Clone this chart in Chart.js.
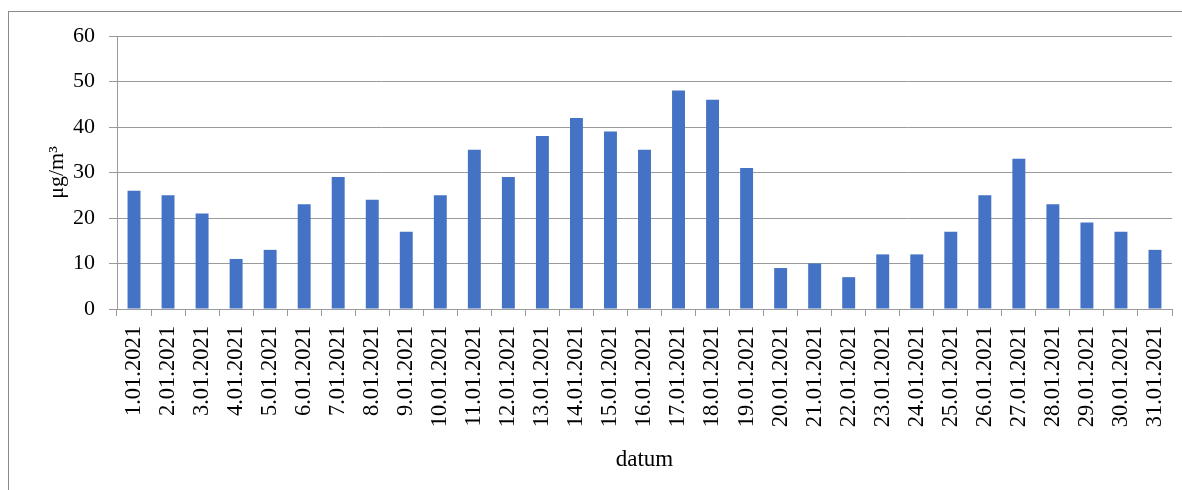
<!DOCTYPE html>
<html>
<head>
<meta charset="utf-8">
<script src="https://cdn.jsdelivr.net/npm/chart.js@4"></script>
<style>
  html, body { margin: 0; padding: 0; background: #fff; }
  #wrap { width: 1182px; height: 490px; }
</style>
</head>
<body>
<div id="wrap"><canvas id="grafico"></canvas></div>
<script>
const datumi = [
    "1.01.2021", "2.01.2021", "3.01.2021", "4.01.2021", "5.01.2021", "6.01.2021",
    "7.01.2021", "8.01.2021", "9.01.2021", "10.01.2021", "11.01.2021", "12.01.2021",
    "13.01.2021", "14.01.2021", "15.01.2021", "16.01.2021", "17.01.2021", "18.01.2021",
    "19.01.2021", "20.01.2021", "21.01.2021", "22.01.2021", "23.01.2021", "24.01.2021",
    "25.01.2021", "26.01.2021", "27.01.2021", "28.01.2021", "29.01.2021", "30.01.2021",
    "31.01.2021"
];
const koncentracija = [
    26, 25, 21, 11, 13, 23, 29, 24, 17, 25, 35, 29, 38, 42, 39, 35,
    48, 46, 31, 9, 10, 7, 12, 12, 17, 25, 33, 23, 19, 17, 13
];
const yMin = 0;
const yMax = 60;
const yKorak = 10;

const FONT = "'Liberation Serif', 'Times New Roman', serif";
const SIVA = "#9a9a9a";

// white background plus the grey frame round the chart
const okvir = {
    id: "okvir",
    beforeDraw(c) {
        const ctx = c.ctx;
        ctx.save();
        ctx.fillStyle = "#fff";
        ctx.fillRect(0, 0, c.width, c.height);
        ctx.strokeStyle = "#8a8a8a";
        ctx.lineWidth = 1;
        ctx.strokeRect(8.5, 11.5, c.width, c.height);
        ctx.restore();
    }
};

const ctx = document.getElementById("grafico").getContext("2d");
new Chart(ctx, {
    type: "bar",
    data: {
        labels: datumi,
        datasets: [{
            data: koncentracija,
            backgroundColor: "#4472c4",
            barPercentage: 0.76,
            categoryPercentage: 0.5
        }]
    },
    options: {
        responsive: true,
        maintainAspectRatio: false,
        animation: false,
        layout: { padding: { left: 0, top: 36, right: 10, bottom: 0 } },
        plugins: {
            legend: { display: false },
            tooltip: { enabled: false }
        },
        scales: {
            x: {
                grid: {
                    offset: true,
                    drawOnChartArea: false,
                    drawTicks: true,
                    tickLength: 7,
                    color: SIVA
                },
                border: { display: true, color: SIVA },
                ticks: {
                    color: "#000",
                    font: { family: FONT, size: 22.5 },
                    minRotation: 90,
                    maxRotation: 90,
                    autoSkip: false,
                    padding: 10
                },
                title: {
                    display: true,
                    text: "datum",
                    color: "#000",
                    font: { family: FONT, size: 23 },
                    padding: { top: 0, bottom: 16 }
                },
                afterFit(scale) {
                    scale.height = 181;
                    scale.paddingLeft = 0;
                    scale.paddingRight = 0;
                }
            },
            y: {
                min: yMin,
                max: yMax,
                grid: {
                    color: SIVA,
                    drawTicks: true,
                    tickLength: 8
                },
                border: { display: true, color: SIVA },
                ticks: {
                    stepSize: yKorak,
                    color: "#000",
                    font: { family: FONT, size: 22 },
                    padding: 14
                },
                title: {
                    display: true,
                    text: "μg/m³",
                    color: "#000",
                    font: { family: FONT, size: 22 },
                    padding: { top: 44, bottom: 0 }
                },
                afterFit(scale) { scale.width = 117; }
            }
        }
    },
    plugins: [okvir]
});
</script>
</body>
</html>
